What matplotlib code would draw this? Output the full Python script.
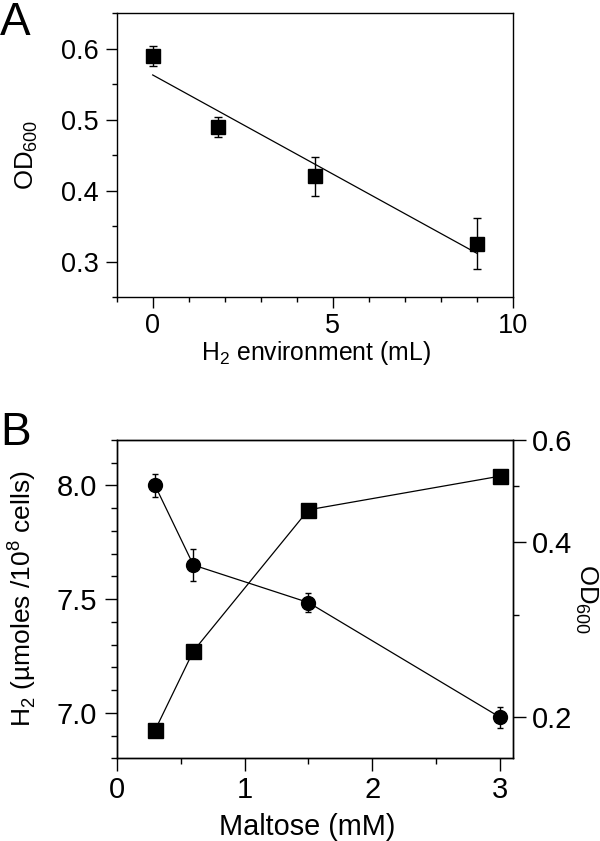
import numpy as np
import matplotlib
matplotlib.use("Agg")
import matplotlib.pyplot as plt
from matplotlib.ticker import MultipleLocator, FixedLocator, FixedFormatter

plt.rcParams['font.family'] = ['Liberation Sans', 'DejaVu Sans']
plt.rcParams['mathtext.fontset'] = 'custom'
plt.rcParams['mathtext.rm'] = 'Liberation Sans'

# ---- Panel A data ----
h2_env_ml = [0, 1.8, 4.5, 9]
od600_a = [0.59, 0.49, 0.42, 0.325]
od600_a_err = [0.014, 0.014, 0.028, 0.036]

# ---- Panel B data ----
maltose_mm = [0.3, 0.6, 1.5, 3.0]
h2_umol = [8.0, 7.65, 7.485, 6.98]
h2_umol_err = [0.05, 0.07, 0.04, 0.047]
od600_b = [0.19, 0.26, 0.455, 0.52]

W, H = 600, 841
fig = plt.figure(figsize=(W / 100, H / 100), dpi=100)

def fx(px):
    return px / W

def fy(py):
    return 1 - py / H

# ---------- Panel A ----------
axA = fig.add_axes([fx(116.7), fy(297), fx(512.7) - fx(116.7), fy(13.3) - fy(297)])
axA.errorbar(h2_env_ml, od600_a, yerr=od600_a_err, fmt='s', color='black',
             markersize=9.5, capsize=2.6, elinewidth=1.0, capthick=1.0, zorder=3)
coef = np.polyfit(h2_env_ml, od600_a, 1)
xfit = np.array([min(h2_env_ml), max(h2_env_ml)])
axA.plot(xfit, np.polyval(coef, xfit), color='black', lw=0.9, zorder=2)
axA.set_xlim(-1, 10)
axA.set_ylim(0.25, 0.65)
axA.xaxis.set_major_locator(FixedLocator([0, 5, 10]))
axA.xaxis.set_minor_locator(MultipleLocator(1))
axA.yaxis.set_major_locator(FixedLocator([0.3, 0.4, 0.5, 0.6]))
axA.yaxis.set_minor_locator(MultipleLocator(0.05))
axA.xaxis.set_major_formatter(FixedFormatter(['0', '5', '10']))
axA.yaxis.set_major_formatter(FixedFormatter(['0.3', '0.4', '0.5', '0.6']))
axA.tick_params(which='both', direction='out', width=1.0, top=False, right=False)
axA.tick_params(which='major', length=7.7)
axA.tick_params(which='minor', length=3.6)
axA.tick_params(axis='y', which='major', labelsize=19.5, pad=5.0)
axA.tick_params(axis='x', which='major', labelsize=19.5, pad=3.5)
for s in axA.spines.values():
    s.set_linewidth(1.0)

fig.text(fx(316), fy(360), r'H$_\mathregular{2}$ environment (mL)', ha='center',
         va='baseline', fontsize=17.8)
fig.text(fx(27), fy(155), r'OD$_\mathregular{600}$', ha='center', va='center',
         rotation=90, fontsize=18.5)
fig.text(fx(0), fy(35), 'A', ha='left', va='baseline', fontsize=33)

# ---------- Panel B ----------
axB = fig.add_axes([fx(116.7), fy(758.3), fx(513) - fx(116.7), fy(440) - fy(758.3)])
axB.errorbar(maltose_mm, h2_umol, yerr=h2_umol_err, fmt='-o', color='black',
             markersize=10, lw=0.9, capsize=2.4, elinewidth=1.0, capthick=1.0, zorder=3)
axB.set_xlim(0, 3.1)
axB.set_ylim(6.8, 8.2)
axB.xaxis.set_major_locator(FixedLocator([0, 1, 2, 3]))
axB.xaxis.set_minor_locator(MultipleLocator(0.5))
axB.yaxis.set_major_locator(FixedLocator([7.0, 7.5, 8.0]))
axB.yaxis.set_minor_locator(MultipleLocator(0.1))
axB.xaxis.set_major_formatter(FixedFormatter(['0', '1', '2', '3']))
axB.yaxis.set_major_formatter(FixedFormatter(['7.0', '7.5', '8.0']))
axB.tick_params(which='both', direction='out', width=1.0, top=False, right=False)
axB.tick_params(which='major', length=9.0)
axB.tick_params(which='minor', length=4.3)
axB.tick_params(axis='y', which='major', labelsize=21, pad=5.0)
axB.tick_params(axis='x', which='major', labelsize=21, pad=4.0)

axB2 = axB.twinx()
axB2.plot(maltose_mm, od600_b, '-s', color='black', markersize=10.8, lw=0.9, zorder=3)
axB2.set_yscale('log')
axB2.set_ylim(0.17, 0.6)
axB2.yaxis.set_major_locator(FixedLocator([0.2, 0.4, 0.6]))
axB2.yaxis.set_major_formatter(FixedFormatter(['0.2', '0.4', '0.6']))
axB2.yaxis.set_minor_locator(FixedLocator([0.3, 0.5]))
axB2.yaxis.set_minor_formatter(FixedFormatter(['', '']))
axB2.tick_params(which='both', direction='out', width=1.0)
axB2.tick_params(which='major', length=9.0, labelsize=21, pad=4.5)
axB2.tick_params(which='minor', length=4.3)
for a in (axB, axB2):
    for s in a.spines.values():
        s.set_linewidth(1.0)

fig.text(fx(307.5), fy(835), 'Maltose (mM)', ha='center', va='baseline', fontsize=20.8)
fig.text(fx(22), fy(599), r'H$_\mathregular{2}$ (µmoles /10$^\mathregular{8}$ cells)',
         ha='center', va='center', rotation=90, fontsize=19)
fig.text(fx(586), fy(599), r'OD$_\mathregular{600}$', ha='center', va='center',
         rotation=-90, fontsize=18.5)
fig.text(fx(0), fy(445), 'B', ha='left', va='baseline', fontsize=33)

fig.savefig('out.png', dpi=100)
